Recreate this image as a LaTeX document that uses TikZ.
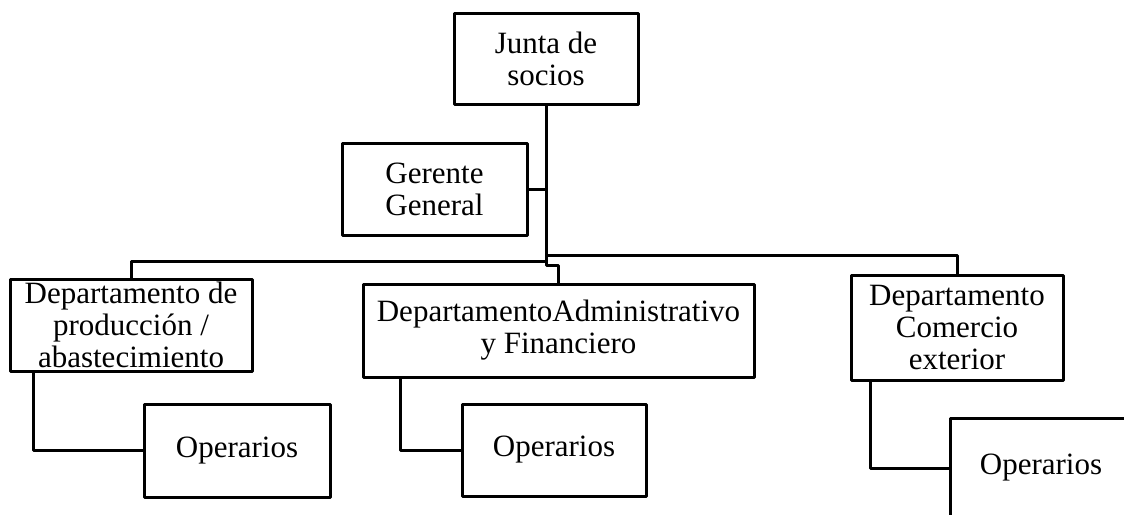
\documentclass[tikz,border=0pt]{standalone}
\usepackage{fontspec}
\setmainfont{Liberation Serif}
\begin{document}
\begin{tikzpicture}[x=1pt,y=-1pt,line join=round,line cap=rect,
	caja/.style={draw,line width=3pt,inner sep=0pt,align=center,font=\fontsize{31}{32}\selectfont},
	linea/.style={draw,line width=3pt}]
	\clip (0,0) rectangle (1124,514);
	%Cajas
	\node[caja,minimum width=184,minimum height=91] (junta) at (546,58.5) {Junta de\\socios};
	\node[caja,minimum width=185,minimum height=92] (gerente) at (434.5,189) {Gerente\\General};
	\node[caja,minimum width=242,minimum height=92] (prod) at (131,325) {Departamento de\\producción /\\abastecimiento};
	\node[caja,minimum width=391,minimum height=93] (admin) at (558.5,330.5) {DepartamentoAdministrativo\\y Financiero};
	\node[caja,minimum width=212,minimum height=105] (comercio) at (957,327.5) {Departamento\\Comercio\\exterior};
	\node[caja,minimum width=186,minimum height=93] (op1) at (237,450.5) {Operarios};
	\node[caja,minimum width=184,minimum height=92] (op2) at (554,450) {Operarios};
	\node[caja,minimum width=182,minimum height=100] (op3) at (1041,468) {Operarios};
	%Lineas
	\coordinate (ramaI) at (546,261);
	\coordinate (ramaD) at (546,255);
	\coordinate (codo) at (546,265);
	\draw[linea] (junta.south) -- (codo) -| (admin.north);
	\draw[linea] (gerente.east) -- (gerente.east -| junta.south);
	\draw[linea] (ramaI) -| (prod.north);
	\draw[linea] (ramaD) -| (comercio.north);
	\draw[linea] ([xshift=25]prod.south west) |- (op1.west);
	\draw[linea] ([xshift=39]admin.south west) |- (op2.west);
	\draw[linea] ([xshift=21]comercio.south west) |- (op3.west);
\end{tikzpicture}
\end{document}
